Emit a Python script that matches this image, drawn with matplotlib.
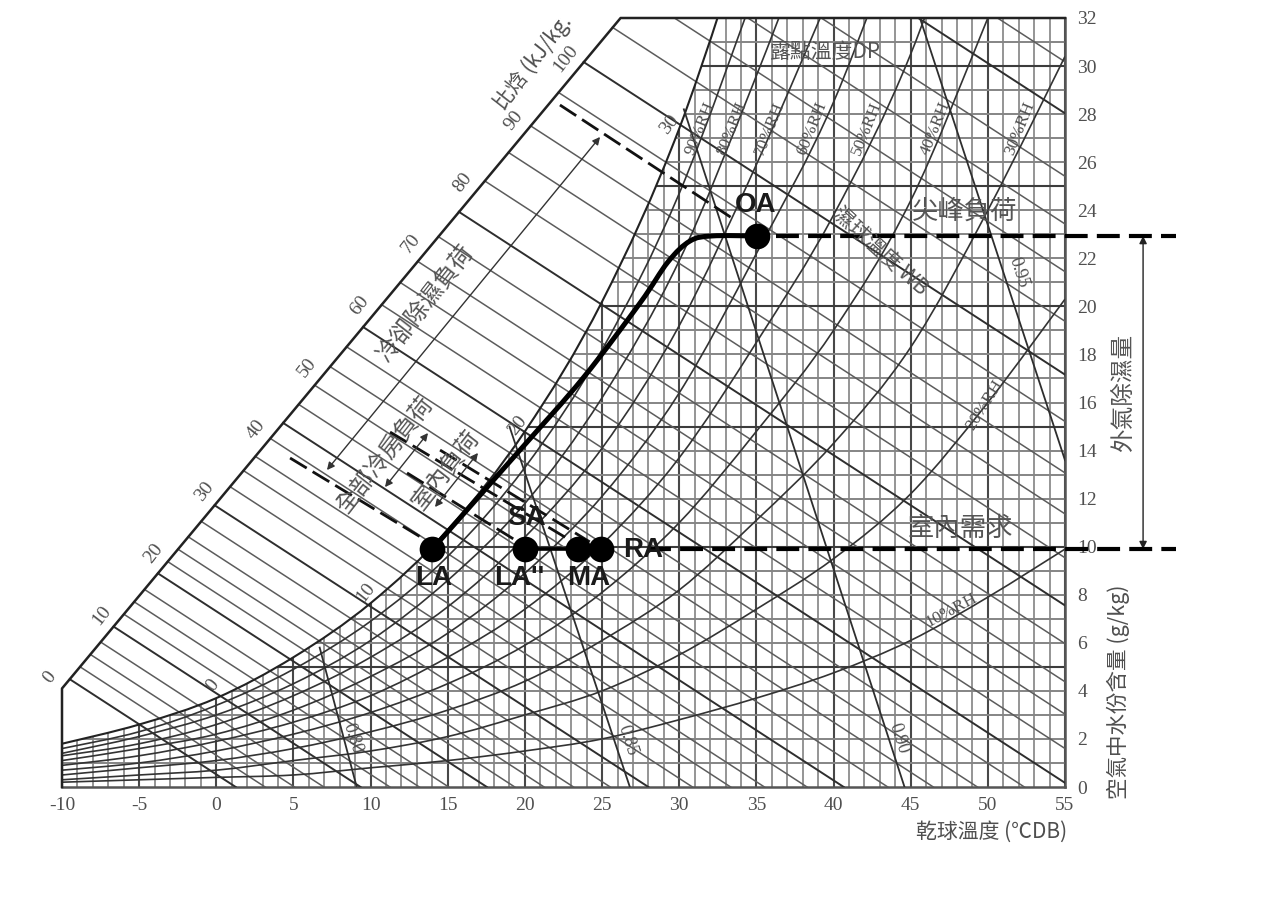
import matplotlib
matplotlib.use("Agg")
import numpy as np
import matplotlib.pyplot as plt
from matplotlib.path import Path
from matplotlib.patches import PathPatch

plt.rcParams['axes.unicode_minus'] = False

W, H = 1280, 909
CJK = ['Noto Sans CJK TC', 'DejaVu Sans']
SERIF = ['Liberation Serif', 'Noto Sans CJK TC']
GREY = '#4f4f4f'

# dry bulb knots and humidity ratio (g/kg) of each RH curve
temps = [-10, -5, 0, 5, 10, 15, 20, 25, 30, 35, 40, 45, 50, 55]
rh100 = [1.8, 2.6, 3.7, 5.4, 7.65, 10.7, 14.8, 20.2, 27.4, 37.0]
rh90 = [1.6, 2.3, 3.4, 4.9, 6.9, 9.6, 13.3, 18.2, 24.7, 33.3]
rh80 = [1.4, 2.1, 3.0, 4.3, 6.1, 8.6, 11.8, 16.2, 21.9, 29.6, 38.0]
rh70 = [1.3, 1.8, 2.6, 3.8, 5.4, 7.5, 10.4, 14.1, 19.2, 25.9, 33.3]
rh60 = [1.1, 1.6, 2.2, 3.2, 4.6, 6.4, 8.9, 12.1, 16.4, 22.2, 28.5, 37.0]
rh50 = [0.9, 1.3, 1.9, 2.7, 3.8, 5.4, 7.4, 10.1, 13.7, 18.5, 23.8, 30.5, 39.6]
rh40 = [0.7, 1.0, 1.5, 2.2, 3.1, 4.3, 5.9, 8.1, 11.0, 14.8, 19.0, 24.4, 32.0, 40.0]
rh30 = [0.5, 0.8, 1.1, 1.6, 2.3, 3.2, 4.4, 6.1, 8.2, 11.1, 14.3, 18.3, 24.0, 30.4]
rh20 = [0.3, 0.5, 0.7, 1.1, 1.5, 2.1, 3.0, 4.0, 5.5, 7.4, 9.5, 12.2, 16.0, 20.3]
rh10 = [0.2, 0.3, 0.4, 0.5, 0.8, 1.1, 1.5, 2.0, 2.8, 3.7, 4.75, 6.1, 7.9, 9.9]

# enthalpy lines, given by where they leave the diagonal edge (kJ/kg)
h_thin = [3.5, 5.5, 7.5, 12, 14, 16, 20.5, 22.5, 24.5, 27, 32.6, 35.2, 37.5, 40.4,
          45.9, 49, 52, 55.2, 62, 65.6, 69, 73, 82, 86.6, 90.9, 96.3, 106.8,
          112, 117, 122, 134]
h_wetbulb = [1.5, 10, 18.6, 29.6, 42.9, 58.4, 77, 101.2, 128.6]
h_labels = [0, 10, 20, 30, 40, 50, 60, 70, 80, 90, 100]

# specific volume lines (T, w)
v80_t, v80_w = [6.7, 9.1], [5.8, 0]
v85_t, v85_w = [19.0, 26.8], [15.0, 0]
v90_t, v90_w = [30.3, 44.6], [28.2, 0]
v95_t, v95_w = [45.6, 55], [32, 13.6]

# process points
points_t = [14.0, 20.0, 23.45, 24.9, 35.05]
points_w = [9.9, 9.9, 9.9, 9.9, 22.93]
process_t = [14.0, 19.68, 23.77, 27.46, 29.27, 30.7, 32.13, 35.05]
process_w = [9.9, 14.02, 17.02, 20.14, 21.85, 22.72, 22.93, 22.93]

# dashed enthalpy guides: (T start, T end, w start, w end)
guide_oa = [22.27, 33.6, 28.38, 23.6]
guide_la = [4.78, 13.5, 13.69, 10.3]
guide_lapp = [12.36, 19.36, 13.07, 10.28]
guide_ma = [11.26, 22.9, 14.77, 10.28]
guide_ra = [14.5, 24.2, 14.02, 10.2]

# double arrows between guides
arrow_big = [(24.87, 27.05), (7.17, 13.19)]
arrow_mid = [(13.72, 14.73), (10.93, 12.48)]
arrow_small = [(16.96, 13.9), (14.17, 11.65)]

x_ticks = list(range(-10, 60, 5))
y_ticks = list(range(0, 34, 2))


def smooth_path(xs, ys):
    # Catmull-Rom knots written as bezier segments
    p = np.column_stack([xs, ys]).astype(float)
    verts = [p[0]]
    codes = [Path.MOVETO]
    last = len(p) - 1
    for i in range(last):
        c1 = p[i] + (p[i + 1] - p[max(i - 1, 0)]) / 6
        c2 = p[i + 1] - (p[min(i + 2, last)] - p[i]) / 6
        verts += [c1, c2, p[i + 1]]
        codes += [Path.CURVE4, Path.CURVE4, Path.CURVE4]
    return Path(verts, codes)


def diag(h):
    return -10 + 0.334 * h, 4.1 + 0.2576 * h


def h_line(h, color, lw):
    t0, w0 = diag(h)
    slope = 0.417
    t1 = t0 + w0 / slope
    w1 = 0
    if t1 > 55:
        t1 = 55
        w1 = w0 - (55 - t0) * slope
    ax.plot([t0, t1], [w0, w1], color=color, lw=lw, zorder=3)


def label(px, py, s, size, rot=0, color=GREY, family=CJK, **kw):
    fig.text(px / W, 1 - py / H, s, fontsize=size, rotation=rot, color=color, family=family,
             ha='center', va='center', rotation_mode='anchor', zorder=20, **kw)


fig = plt.figure(figsize=(W / 100, H / 100), dpi=100)
ax = fig.add_axes([62 / W, (H - 787) / H, 1003 / W, 769 / H])
ax.set_xlim(-10, 55)
ax.set_ylim(0, 32)

# area under the saturation curve, the grid stays in there
sat = smooth_path(temps[:len(rh100)], rh100)
clip_verts = list(sat.vertices) + [(55, 37), (55, 0), (-10, 0), (-10, 1.8)]
clip_codes = list(sat.codes) + [Path.LINETO, Path.LINETO, Path.LINETO, Path.CLOSEPOLY]
under_sat = Path(clip_verts, clip_codes)

for t in range(-10, 56):
    major = t % 5 == 0
    ln = ax.axvline(t, color='#484848' if major else '#8c8c8c', lw=1.5 if major else 1.3, zorder=2)
    ln.set_clip_path(under_sat, transform=ax.transData)
for w in range(1, 33):
    major = w % 5 == 0
    ln = ax.axhline(w, color='#3c3c3c' if major else '#858585', lw=1.5 if major else 1.4, zorder=2)
    ln.set_clip_path(under_sat, transform=ax.transData)

for h in h_thin:
    h_line(h, '#5c5c5c', 1.1)
for h in h_wetbulb:
    h_line(h, '#2e2e2e', 1.4)

rh_curves = [rh90, rh80, rh70, rh60, rh50, rh40, rh30, rh20, rh10]
for curve in rh_curves:
    ax.add_patch(PathPatch(smooth_path(temps[:len(curve)], curve), fill=False, ec='#333333', lw=1.2, zorder=4))
ax.add_patch(PathPatch(sat, fill=False, ec='#222222', lw=1.5, zorder=4))

for vt, vw in [(v80_t, v80_w), (v85_t, v85_w), (v90_t, v90_w), (v95_t, v95_w)]:
    ax.plot(vt, vw, color='#2e2e2e', lw=1.3, zorder=4)

# outer frame: left side, diagonal edge, top
ax.plot([-10, -10, 26.2, 55], [0, 4.1, 32, 32], color='#222222', lw=1.8, zorder=5, clip_on=False)
for side in ['top', 'left']:
    ax.spines[side].set_visible(False)
for side in ['bottom', 'right']:
    ax.spines[side].set_color('#555555')
    ax.spines[side].set_linewidth(1.8)

ax.set_xticks(x_ticks)
ax.set_yticks(y_ticks)
ax.yaxis.tick_right()
ax.tick_params(axis='both', length=0, labelsize=14, labelcolor=GREY)
ax.tick_params(axis='x', pad=7)
ax.tick_params(axis='y', pad=9)
for t in ax.get_xticklabels() + ax.get_yticklabels():
    t.set_family(SERIF)

# guides and arrows
for g in [guide_oa, guide_la, guide_lapp, guide_ma, guide_ra]:
    ax.plot(g[:2], g[2:], color='#111111', lw=2.0, dashes=(7, 2.5), zorder=6)
for a in [arrow_big, arrow_mid, arrow_small]:
    ax.annotate('', xy=a[0], xytext=a[1], zorder=6,
                arrowprops=dict(arrowstyle='<|-|>', color='#333333', lw=1.0, shrinkA=0, shrinkB=0,
                                mutation_scale=11))

# process line and state points
ax.add_patch(PathPatch(smooth_path(process_t, process_w), fill=False, ec='black', lw=3.6, zorder=8,
                       capstyle='round'))
ax.plot(points_t[1:4], points_w[1:4], color='black', lw=2.6, zorder=8)
ax.plot(points_t, points_w, 'o', color='black', ms=18.5, mew=0, zorder=9)

# thick dashed levels running past the right axis
for w, t_from in [(points_w[4], 36.3), (points_w[0], 28.0)]:
    ax.plot([t_from, 62.2], [w, w], color='black', lw=3.0, dashes=(5.5, 2.2), zorder=7, clip_on=False)
ax.annotate('', xy=(60.06, points_w[4]), xytext=(60.06, points_w[0]), annotation_clip=False, zorder=6,
            arrowprops=dict(arrowstyle='<|-|>', color='#222222', lw=1.0, shrinkA=0, shrinkB=0,
                            mutation_scale=11))

# labels along the diagonal edge
for h in h_labels:
    t0, w0 = diag(h)
    ax.annotate(str(h), xy=(t0, w0), xytext=(-8.6, 8), textcoords='offset points', fontsize=14,
                rotation=52, color=GREY, family=SERIF, ha='center', va='center',
                rotation_mode='anchor', annotation_clip=False, zorder=20)

for px, py, s in [(213, 685, '0'), (366, 592, '10'), (518, 425, '20'), (670, 125, '30')]:
    label(px, py, s, 14, rot=52, family=SERIF)
for px, py, s in [(352, 738, '0.80'), (627, 740, '0.85'), (898, 738, '0.90'), (1018, 272, '0.95')]:
    label(px, py, s, 13, rot=-72, family=SERIF)

for px, s in [(700, '90%RH'), (732, '80%RH'), (770, '70%RH'), (812, '60%RH'),
              (867, '50%RH'), (935, '40%RH'), (1020, '30%RH')]:
    label(px, 128, s, 12.5, rot=68, family=SERIF)
label(985, 405, '20%RH', 12.5, rot=58, family=SERIF)
label(951, 610, '10%RH', 12.5, rot=28, family=SERIF)

label(825, 52, '露點溫度DP', 15, color='#555555')
label(880, 251, '濕球溫度 WB', 15, rot=-42, color='#555555')
label(965, 211, '尖峰負荷', 19, color='#555555')
label(960, 528, '室內需求', 19, color='#555555')
label(1124, 393, '外氣除濕量', 17, rot=90, color='#555555')
label(1118, 692, '空氣中水份含量 (g/kg)', 15.5, rot=90)
label(992, 832, '乾球溫度 (℃DB)', 15)
label(533, 62, '比焓 (kJ/kg.', 15, rot=52)
label(425, 303, '冷卻除濕負荷', 17, rot=52, color='#555555')
label(386, 456, '全部冷房負荷', 17, rot=52, color='#555555')
label(447, 470, '室內負荷', 17, rot=52, color='#555555')

for px, py, s in [(756, 205, 'OA'), (526, 518, 'SA'), (434, 578, 'LA'), (519, 578, "LA''"),
                  (589, 578, 'MA'), (643, 550, 'RA')]:
    label(px, py, s, 20, color='#1a1a1a', family=['Liberation Sans', 'DejaVu Sans'], fontweight='bold')

fig.savefig('out.png', dpi=100)
